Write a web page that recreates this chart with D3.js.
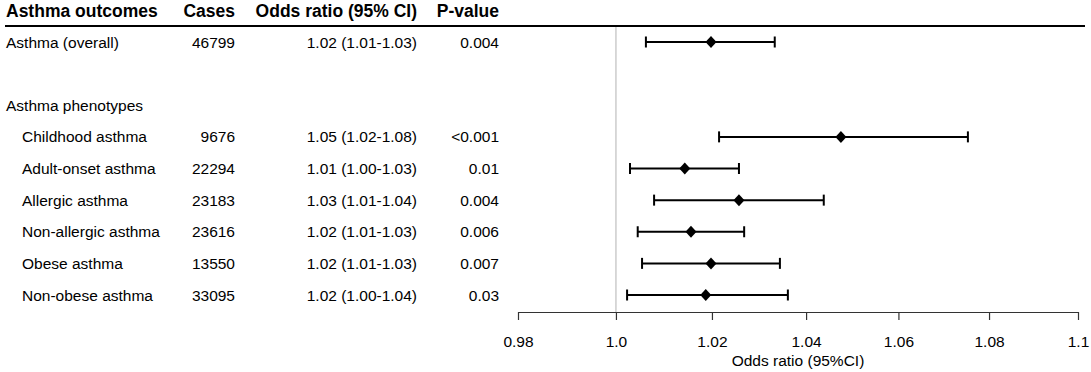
<!DOCTYPE html>
<html>
<head>
<meta charset="utf-8">
<script src="https://cdn.jsdelivr.net/npm/d3@7"></script>
<style>
  body { margin: 0; background: #fff; }
  svg { display: block; font-family: "Liberation Sans", Arial, sans-serif; }
</style>
</head>
<body>
<div id="chart"></div>
<script>
// Table rows (blank row and group heading carry no estimate)
const labels = ["Asthma (overall)", "", "Asthma phenotypes", "Childhood asthma", "Adult-onset asthma",
    "Allergic asthma", "Non-allergic asthma", "Obese asthma", "Non-obese asthma"];
const indented = [false, false, false, true, true, true, true, true, true];
const cases = ["46799", "", "", "9676", "22294", "23183", "23616", "13550", "33095"];
const orText = ["1.02 (1.01-1.03)", "", "", "1.05 (1.02-1.08)", "1.01 (1.00-1.03)", "1.03 (1.01-1.04)",
    "1.02 (1.01-1.03)", "1.02 (1.01-1.03)", "1.02 (1.00-1.04)"];
const pText = ["0.004", "", "", "<0.001", "0.01", "0.004", "0.006", "0.007", "0.03"];

// Estimates (log scale)
const oddsRatio = [1.0198, null, null, 1.0475, 1.0143, 1.0257, 1.0156, 1.0198, 1.0187];
const lower = [1.0062, null, null, 1.0215, 1.0029, 1.0079, 1.0045, 1.0054, 1.0023];
const upper = [1.0333, null, null, 1.0753, 1.0257, 1.0438, 1.0268, 1.0344, 1.0361];

const headers = ["Asthma outcomes", "Cases", "Odds ratio (95% CI)", "P-value"];
const tickValues = [0.98, 1.0, 1.02, 1.04, 1.06, 1.08, 1.1];
const tickLabels = ["0.98", "1.0", "1.02", "1.04", "1.06", "1.08", "1.1"];

const width = 1091, height = 372;
const axisY = 312;

const svg = d3.select("#chart")
    .append("svg")
    .attr("width", width)
    .attr("height", height);

// Scales
const x = d3.scaleLog().domain([0.98, 1.1]).range([518, 1078]);
const y = d3.scalePoint().domain(d3.range(labels.length)).range([42, 295]);

// Column text positions
const colX = [6, 235, 417, 499];
const colAnchor = ["start", "end", "end", "end"];

// Header
svg.append("g")
    .selectAll("text")
    .data(headers)
    .join("text")
    .attr("x", (d, i) => colX[i])
    .attr("y", 17)
    .attr("text-anchor", (d, i) => colAnchor[i])
    .style("font-size", "17.5px")
    .style("font-weight", "bold")
    .text(d => d);

svg.append("line")
    .attr("x1", 5)
    .attr("x2", 1085)
    .attr("y1", 26)
    .attr("y2", 26)
    .attr("stroke", "#000")
    .attr("stroke-width", 2);

// Table body
const rows = svg.append("g")
    .selectAll("g")
    .data(d3.range(labels.length))
    .join("g")
    .attr("transform", i => `translate(0, ${y(i) + 5.5})`)
    .style("font-size", "15.5px");

rows.append("text")
    .attr("x", i => indented[i] ? 22 : colX[0])
    .text(i => labels[i]);

rows.append("text")
    .attr("x", colX[1])
    .attr("text-anchor", "end")
    .text(i => cases[i]);

rows.append("text")
    .attr("x", colX[2])
    .attr("text-anchor", "end")
    .text(i => orText[i]);

rows.append("text")
    .attr("x", colX[3])
    .attr("text-anchor", "end")
    .text(i => pText[i]);

// Reference line at OR = 1
svg.append("line")
    .attr("x1", x(1))
    .attr("x2", x(1))
    .attr("y1", 27)
    .attr("y2", axisY)
    .attr("stroke", "#cccccc")
    .attr("stroke-width", 1.5);

// Confidence intervals
const est = d3.range(labels.length).filter(i => oddsRatio[i] !== null);
const ci = svg.append("g")
    .selectAll("g")
    .data(est)
    .join("g")
    .attr("stroke", "#000")
    .attr("stroke-width", 2);

ci.append("line")
    .attr("x1", i => x(lower[i]))
    .attr("x2", i => x(upper[i]))
    .attr("y1", i => y(i))
    .attr("y2", i => y(i));

ci.append("line")
    .attr("x1", i => x(lower[i]))
    .attr("x2", i => x(lower[i]))
    .attr("y1", i => y(i) - 5.5)
    .attr("y2", i => y(i) + 5.5);

ci.append("line")
    .attr("x1", i => x(upper[i]))
    .attr("x2", i => x(upper[i]))
    .attr("y1", i => y(i) - 5.5)
    .attr("y2", i => y(i) + 5.5);

// Point estimates as diamonds
svg.append("g")
    .selectAll("path")
    .data(est)
    .join("path")
    .attr("transform", i => `translate(${x(oddsRatio[i])}, ${y(i)})`)
    .attr("d", "M0,-6L5.5,0L0,6L-5.5,0Z")
    .attr("fill", "#000");

// X axis
const xAxis = d3.axisBottom(x)
    .tickValues(tickValues)
    .tickFormat((d, i) => tickLabels[i])
    .tickSize(8)
    .tickSizeOuter(0)
    .tickPadding(16);

const gx = svg.append("g")
    .attr("transform", `translate(0, ${axisY})`)
    .call(xAxis);

gx.select(".domain").attr("stroke", "#333").attr("stroke-width", 1.2);
gx.selectAll(".tick line").attr("stroke", "#333").attr("stroke-width", 1.2);
gx.selectAll(".tick text")
    .attr("fill", "#000")
    .style("font-size", "15.5px")
    .style("font-family", "\"Liberation Sans\", Arial, sans-serif");

svg.append("text")
    .attr("x", (x.range()[0] + x.range()[1]) / 2)
    .attr("y", 366)
    .attr("text-anchor", "middle")
    .style("font-size", "15.5px")
    .text("Odds ratio (95%CI)");
</script>
</body>
</html>
